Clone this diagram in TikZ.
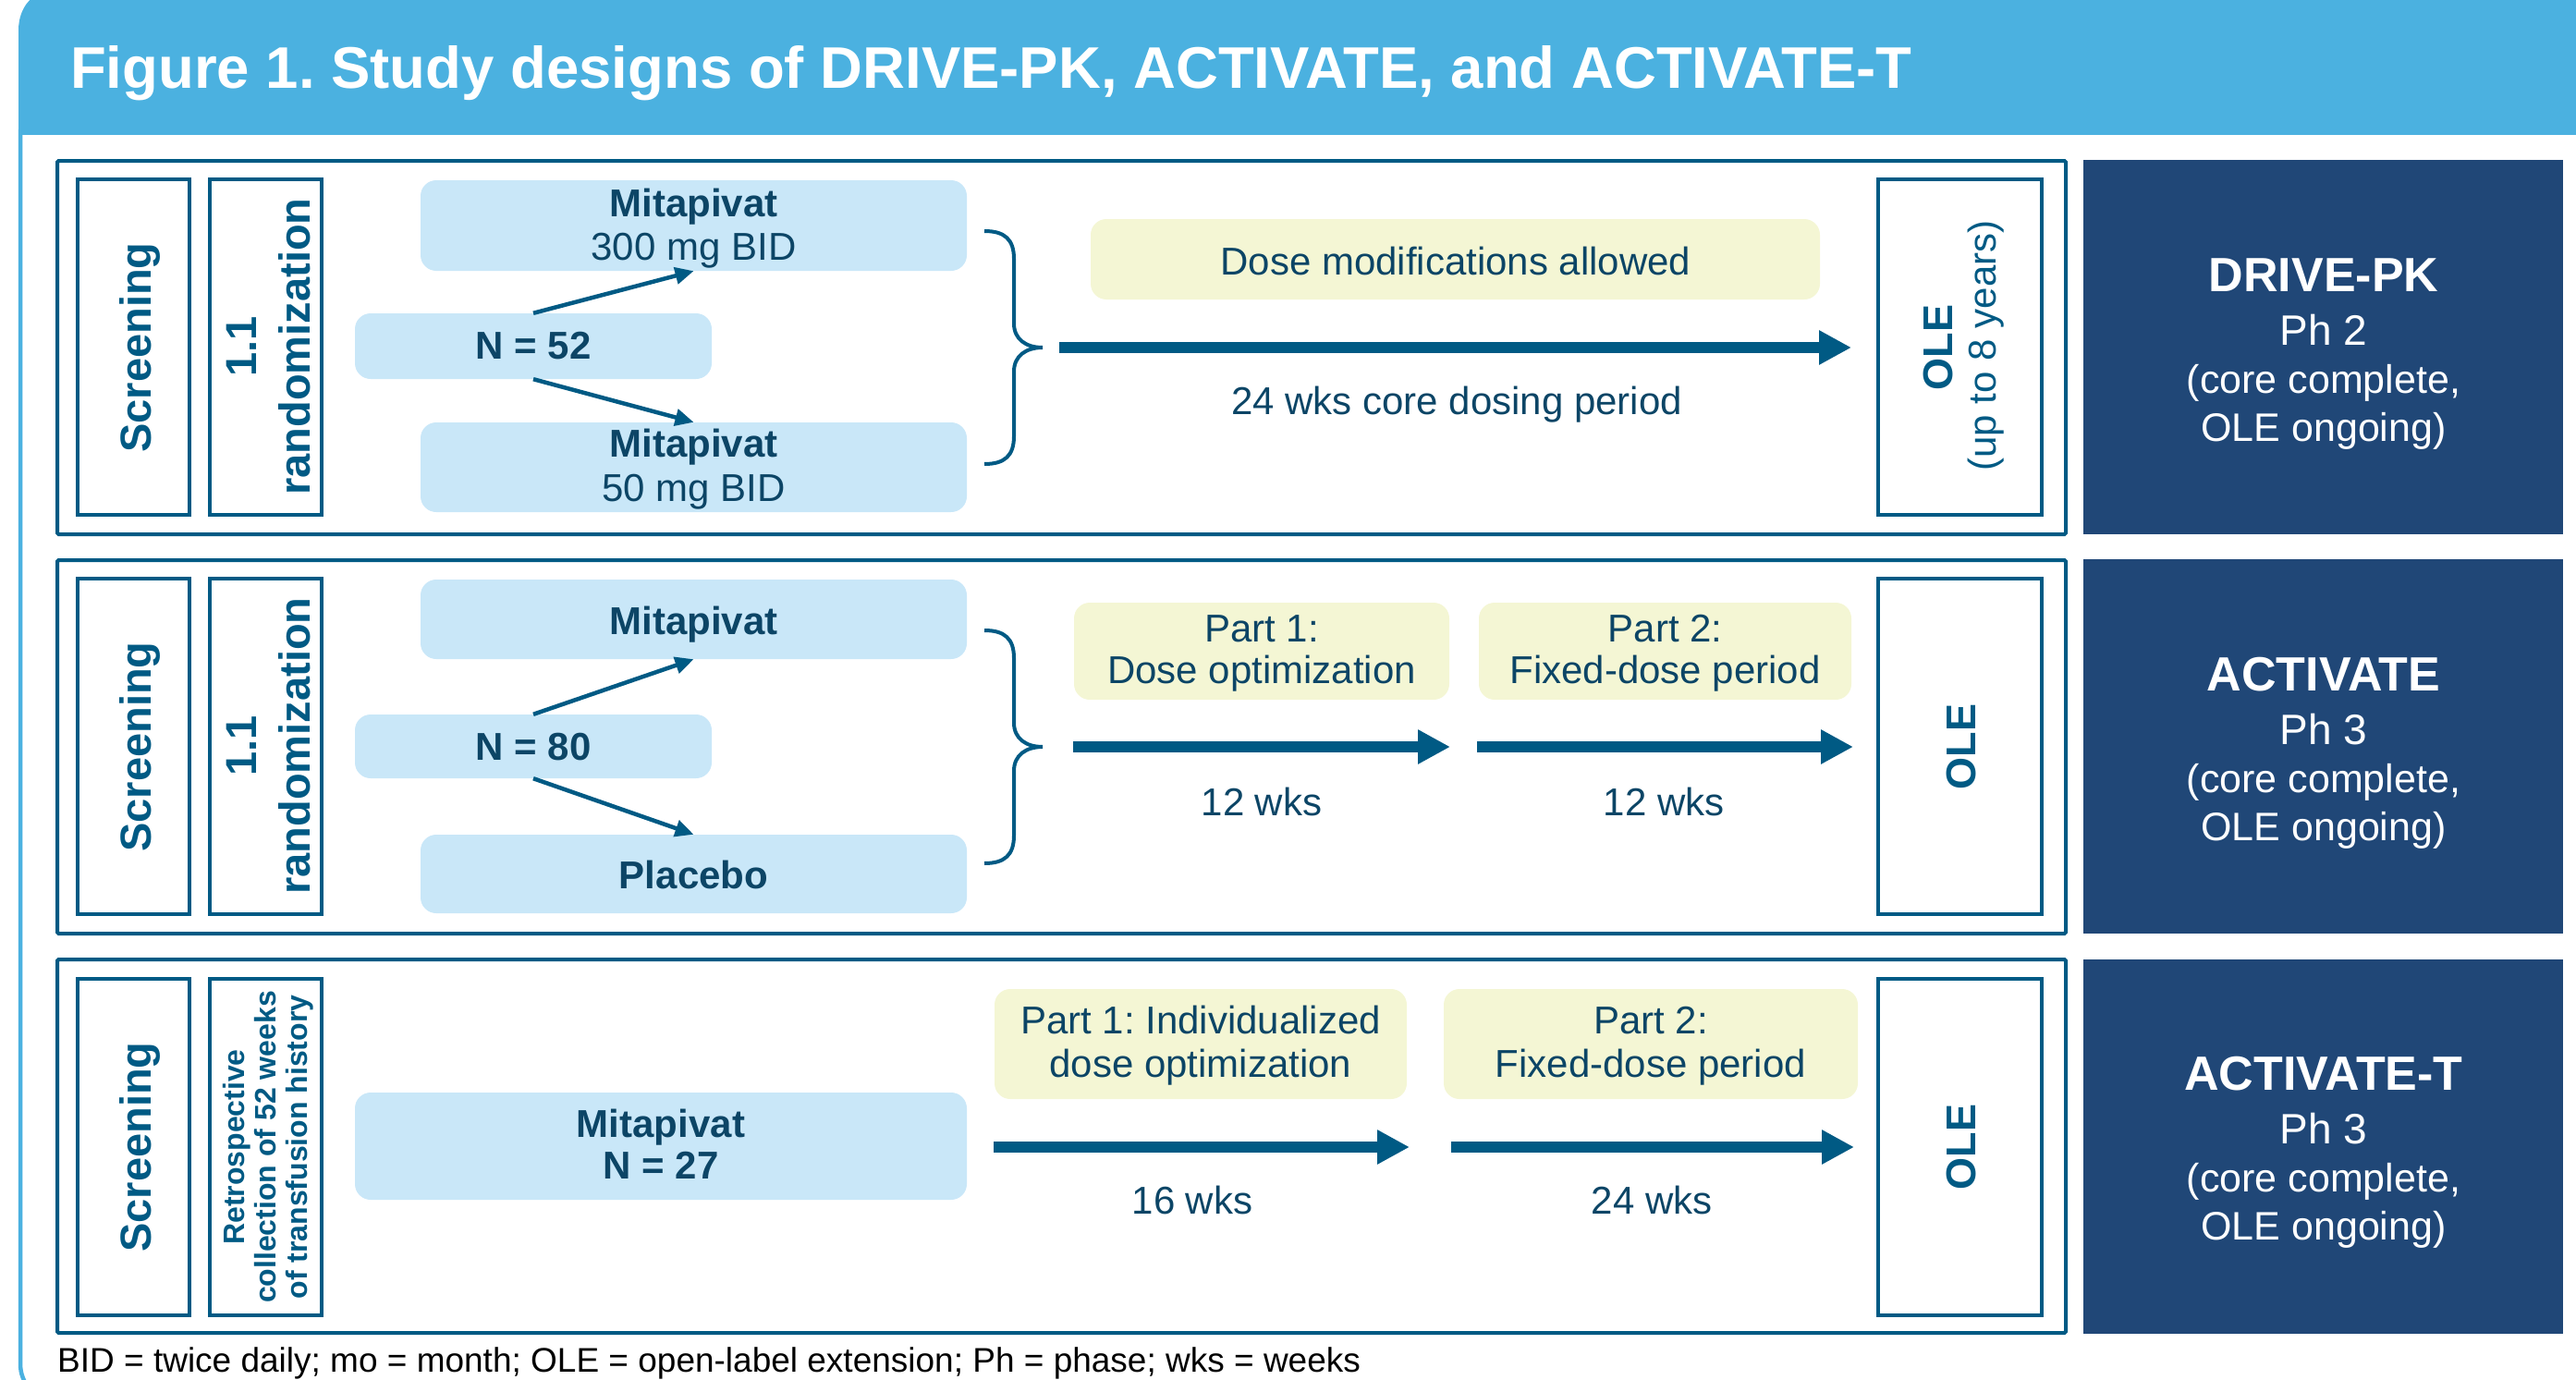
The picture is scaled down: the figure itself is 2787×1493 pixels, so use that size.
\documentclass[tikz,border=0pt]{standalone}
\usepackage{fontspec}
\setmainfont{Liberation Sans}
\usetikzlibrary{arrows.meta}
\definecolor{barblue}{HTML}{4BB1E0}
\definecolor{lineblue}{HTML}{005A84}
\definecolor{navy}{HTML}{204777}
\definecolor{boxblue}{HTML}{C9E7F8}
\definecolor{boxyellow}{HTML}{F4F6D4}
\definecolor{txtblue}{HTML}{0C4566}
\newcommand{\fsz}[1]{\fontsize{#1}{#1}\selectfont}
\frenchspacing
\tikzset{
 wh/.style 2 args={minimum width=#1pt, minimum height=#2pt},
 panelbox/.style={draw=lineblue, line width=4pt, inner sep=0pt, rounded corners=1.5pt},
 navybox/.style={fill=navy, inner sep=0pt},
 tagbox/.style={draw=lineblue, line width=3.5pt, inner sep=0pt, fill=white},
 bluebox/.style={fill=boxblue, rounded corners=17pt, inner sep=0pt},
 yelbox/.style={fill=boxyellow, rounded corners=17pt, inner sep=0pt},
 lbl/.style={inner sep=0pt, anchor=base, text=txtblue, font=\fsz{42}},
 lblb/.style={inner sep=0pt, anchor=base, text=txtblue, font=\fsz{42}\bfseries},
 vlbl/.style={inner sep=0pt, anchor=base, rotate=90, text=lineblue, font=\fsz{47}\bfseries},
 vole/.style={inner sep=0pt, anchor=base, rotate=90, text=lineblue, font=\fsz{45}\bfseries},
 vsmall/.style={inner sep=0pt, anchor=base, rotate=90, text=lineblue, font=\fsz{32}\bfseries},
 vreg/.style={inner sep=0pt, anchor=base, rotate=90, text=lineblue, font=\fsz{42}},
 navyt/.style={inner sep=0pt, anchor=base, text=white, font=\fsz{43}},
 navyp/.style={inner sep=0pt, anchor=base, text=white, font=\fsz{46}},
 navyh/.style={inner sep=0pt, anchor=base, text=white, font=\fsz{52}\bfseries},
 diag/.style={draw=lineblue, line width=4.5pt, -{Triangle[length=20pt,width=18pt]}},
 bigarrow/.style={draw=lineblue, line width=12pt, -{Triangle[length=35pt,width=35pt]}},
 bracepath/.style={draw=lineblue, line width=4pt},
}
\begin{document}
\begin{tikzpicture}[x=1pt,y=-1pt]
\useasboundingbox (0,0) rectangle (2787,1493);
\clip (0,0) rectangle (2787,1493);
% frame and title bar
\draw[barblue, line width=4.5pt] (22,140) -- (22,1475) .. controls (22,1497) and (36,1512) .. (60,1512) -- (2850,1512);
\fill[barblue] (20,146) -- (20,33) .. controls (20,8) and (35,-12) .. (65,-12) -- (2850,-12) -- (2850,146) -- cycle;
\node[inner sep=0pt, anchor=base west, text=white, font=\fsz{63.5}\bfseries] (title) at (76,96) {Figure 1. Study designs of DRIVE-PK, ACTIVATE, and ACTIVATE-T};

% ================= Panel 1 =================
\node[panelbox, wh={2173}{404}] (p1) at (1148.5,376) {};
\node[navybox, wh={519}{405}] (d1) at (2513.5,375.5) {};
\node[tagbox, wh={121}{363}] (s1) at (144.5,375.5) {};
\node[tagbox, wh={121}{363}] (r1) at (287.5,375.5) {};
\node[tagbox, wh={177}{363}] (o1) at (2120.5,375.5) {};
\node[bluebox, wh={591}{98}] (hi1) at (750.5,244) {};
\node[bluebox, wh={386}{71}] (n1) at (577,374.5) {};
\node[bluebox, wh={591}{97}] (lo1) at (750.5,505.5) {};
\node[yelbox, wh={789}{87}] (dm1) at (1574.5,280.5) {};
\node[lblb] (hi1a) at (750.5,234) {Mitapivat};
\node[lbl] (hi1b) at (750.5,281) {300 mg BID};
\node[lblb] (lo1a) at (750.5,494) {Mitapivat};
\node[lbl] (lo1b) at (750.5,542) {50 mg BID};
\node[lblb] (n1t) at (577,388) {N = 52};
\node[lbl] (dm1t) at (1575,297) {Dose modifications allowed};
\node[lbl] (w1t) at (1576,448) {24 wks core dosing period};
\node[vlbl] (s1t) at (163,376) {Screening};
\node[vlbl] (r1a) at (277,375) {1.1};
\node[vlbl] (r1b) at (335,375) {randomization};
\node[vole] (o1a) at (2112,376) {OLE};
\node[vreg] (o1b) at (2159,374) {(up to 8 years)};
\node[navyh] (d1a) at (2514,315) {DRIVE-PK};
\node[navyp] (d1b) at (2514,373) {Ph 2};
\node[navyt] (d1c) at (2514,425) {(core complete,};
\node[navyt] (d1d) at (2514,477) {OLE ongoing)};
\draw[diag] (n1.north) -- (hi1.south);
\draw[diag] (n1.south) -- (lo1.north);
\draw[bracepath] (1065,250) .. controls (1087,250) and (1097,259) .. (1097,280) -- (1097,350) .. controls (1097,367) and (1110,376) .. (1128,376) .. controls (1110,376) and (1097,385) .. (1097,402) -- (1097,472) .. controls (1097,493) and (1087,502) .. (1065,502);
\coordinate (a1s) at (1146,376);
\coordinate (a1e) at (2003,376);
\draw[bigarrow, line width=12.5pt] (a1s) -- (a1e);

% ================= Panel 2 =================
\node[panelbox, wh={2173}{404}] (p2) at (1148.5,808) {};
\node[navybox, wh={519}{405}] (d2) at (2513.5,807.5) {};
\node[tagbox, wh={121}{363}] (s2) at (144.5,807.5) {};
\node[tagbox, wh={121}{363}] (r2) at (287.5,807.5) {};
\node[tagbox, wh={177}{363}] (o2) at (2120.5,807.5) {};
\node[bluebox, wh={591}{86}] (hi2) at (750.5,670) {};
\node[bluebox, wh={386}{69}] (n2) at (577,807.5) {};
\node[bluebox, wh={591}{85}] (lo2) at (750.5,945.5) {};
\node[yelbox, wh={406}{105}] (pa2) at (1365,704.5) {};
\node[yelbox, wh={403}{105}] (pb2) at (1801.5,704.5) {};
\node[lblb] (hi2t) at (750.5,686) {Mitapivat};
\node[lblb] (lo2t) at (750.5,961) {Placebo};
\node[lblb] (n2t) at (577,822) {N = 80};
\node[lbl] (pa2a) at (1365,694) {Part 1:};
\node[lbl] (pa2b) at (1365,739) {Dose optimization};
\node[lbl] (pb2a) at (1801.5,694) {Part 2:};
\node[lbl] (pb2b) at (1801.5,739) {Fixed-dose period};
\node[lbl] (w2a) at (1365,882) {12 wks};
\node[lbl] (w2b) at (1800,882) {12 wks};
\node[vlbl] (s2t) at (163,808) {Screening};
\node[vlbl] (r2a) at (277,807) {1.1};
\node[vlbl] (r2b) at (335,807) {randomization};
\node[vole] (o2t) at (2137,808) {OLE};
\node[navyh] (d2a) at (2514,747) {ACTIVATE};
\node[navyp] (d2b) at (2514,805) {Ph 3};
\node[navyt] (d2c) at (2514,857) {(core complete,};
\node[navyt] (d2d) at (2514,909) {OLE ongoing)};
\draw[diag] (n2.north) -- (hi2.south);
\draw[diag] (n2.south) -- (lo2.north);
\draw[bracepath] (1065,682) .. controls (1087,682) and (1097,691) .. (1097,712) -- (1097,782) .. controls (1097,799) and (1110,808) .. (1128,808) .. controls (1110,808) and (1097,817) .. (1097,834) -- (1097,904) .. controls (1097,925) and (1087,934) .. (1065,934);
\coordinate (a2s) at (1161,808);
\coordinate (a2e) at (1569,808);
\coordinate (a3s) at (1598,808);
\coordinate (a3e) at (2005,808);
\draw[bigarrow] (a2s) -- (a2e);
\draw[bigarrow] (a3s) -- (a3e);

% ================= Panel 3 =================
\node[panelbox, wh={2173}{404}] (p3) at (1148.5,1240) {};
\node[navybox, wh={519}{405}] (d3) at (2513.5,1240.5) {};
\node[tagbox, wh={121}{364}] (s3) at (144.5,1241) {};
\node[tagbox, wh={121}{364}] (r3) at (287.5,1241) {};
\node[tagbox, wh={177}{364}] (o3) at (2120.5,1241) {};
\node[bluebox, wh={662}{116}] (m3) at (715,1240) {};
\node[yelbox, wh={446}{119}] (pa3) at (1299,1129.5) {};
\node[yelbox, wh={448}{119}] (pb3) at (1786,1129.5) {};
\node[lblb] (m3a) at (715,1230) {Mitapivat};
\node[lblb] (m3b) at (715,1275) {N = 27};
\node[lbl] (pa3a) at (1299,1118) {Part 1: Individualized};
\node[lbl] (pa3b) at (1299,1165) {dose optimization};
\node[lbl] (pb3a) at (1786,1118) {Part 2:};
\node[lbl] (pb3b) at (1786,1165) {Fixed-dose period};
\node[lbl] (w3a) at (1290,1313) {16 wks};
\node[lbl] (w3b) at (1787,1313) {24 wks};
\node[vlbl] (s3t) at (163,1241) {Screening};
\node[vsmall] (r3a) at (264,1241) {Retrospective};
\node[vsmall] (r3b) at (298,1241) {collection of 52 weeks};
\node[vsmall] (r3c) at (332,1241) {of transfusion history};
\node[vole] (o3t) at (2137,1241) {OLE};
\node[navyh] (d3a) at (2514,1179) {ACTIVATE-T};
\node[navyp] (d3b) at (2514,1237) {Ph 3};
\node[navyt] (d3c) at (2514,1289) {(core complete,};
\node[navyt] (d3d) at (2514,1341) {OLE ongoing)};
\coordinate (a4s) at (1075,1241);
\coordinate (a4e) at (1525,1241);
\coordinate (a5s) at (1570,1241);
\coordinate (a5e) at (2006,1241);
\draw[bigarrow] (a4s) -- (a4e);
\draw[bigarrow] (a5s) -- (a5e);

% footer
\node[inner sep=0pt, anchor=base west, text=black, font=\fsz{37}] (foot) at (62,1484) {BID = twice daily; mo = month; OLE = open-label extension; Ph = phase; wks = weeks};
\end{tikzpicture}
\end{document}
